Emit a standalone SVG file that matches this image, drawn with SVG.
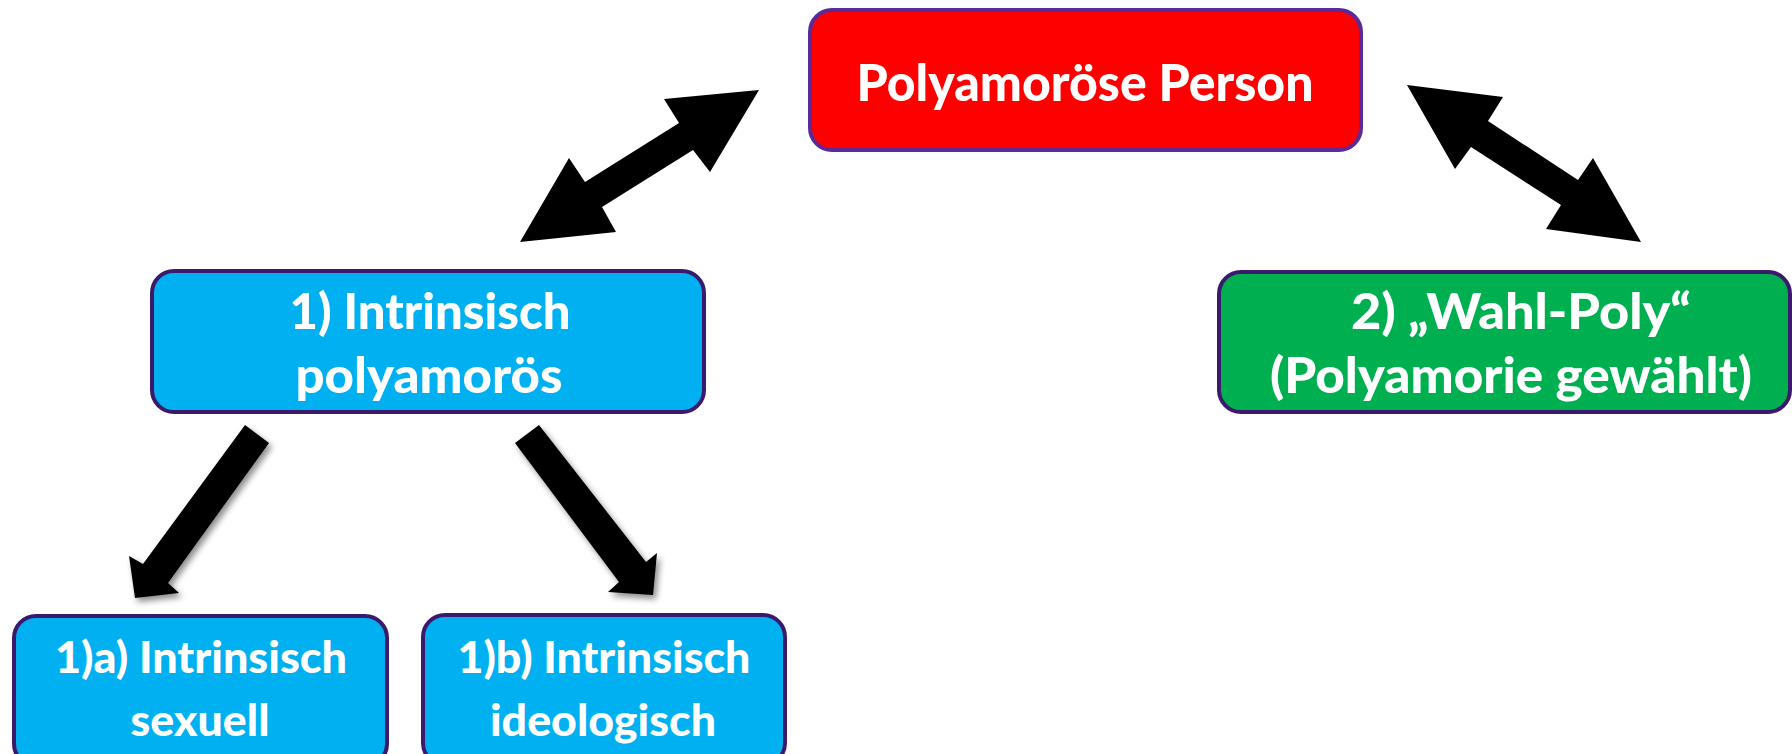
<svg xmlns="http://www.w3.org/2000/svg" width="1792" height="754" viewBox="0 0 1792 754">
<defs>
<style>
.box{stroke-width:4}
.red{fill:#FF0000;stroke:#5B2A96}
.blue{fill:#00B0F0;stroke:#3B1A6C}
.green{fill:#00B050;stroke:#3B1A6C}
.t{font-family:"Lato","Liberation Sans",sans-serif;font-weight:900;fill:#FFFFFF;text-anchor:middle}
.arrow{fill:#000000}
</style>
<filter id="sh" x="-30%" y="-30%" width="160%" height="160%">
<feDropShadow dx="3" dy="4" stdDeviation="3" flood-color="#000" flood-opacity="0.45"/>
</filter>
</defs>
<rect width="1792" height="754" fill="#FFFFFF"/>
<g id="connectors">
<polygon class="arrow" points="759,90 710,172 693,150 602,207 616,232 520,242 569,158 585,182 679,123 664,99"/>
<polygon class="arrow" points="1407,85 1503,97 1488,121 1578,180 1593,158 1641,242 1546,229 1561,205 1471,147 1455,169"/>
<polygon class="arrow" filter="url(#sh)" points="245,425 269,443 168,583 179,593 135,598 129,556 143,564"/>
<polygon class="arrow" filter="url(#sh)" points="539,425 646,562 657,553 653,595 608,592 619,582 515,443"/>
</g>
<g id="node-person">
<rect class="box red" x="810" y="10" width="551" height="140" rx="22"/>
<text class="t" x="1085" y="101" font-size="52" textLength="457" lengthAdjust="spacingAndGlyphs">Polyamoröse Person</text>
</g>
<g id="node-intrinsisch">
<rect class="box blue" x="152" y="271" width="552" height="141" rx="22"/>
<text class="t" x="430" y="329" font-size="50" textLength="281" lengthAdjust="spacingAndGlyphs">1) Intrinsisch</text>
<text class="t" x="429" y="393" font-size="50" textLength="267" lengthAdjust="spacingAndGlyphs">polyamorös</text>
</g>
<g id="node-wahl">
<rect class="box green" x="1219" y="272" width="571" height="140" rx="22"/>
<text class="t" x="1521" y="329" font-size="50" textLength="340" lengthAdjust="spacingAndGlyphs">2) „Wahl-Poly“</text>
<text class="t" x="1511" y="393" font-size="50" textLength="482" lengthAdjust="spacingAndGlyphs">(Polyamorie gewählt)</text>
</g>
<g id="node-sexuell">
<rect class="box blue" x="14" y="616" width="373" height="150" rx="22"/>
<text class="t" x="201" y="673" font-size="43" textLength="292" lengthAdjust="spacingAndGlyphs">1)a) Intrinsisch</text>
<text class="t" x="200" y="736" font-size="43" textLength="139" lengthAdjust="spacingAndGlyphs">sexuell</text>
</g>
<g id="node-ideologisch">
<rect class="box blue" x="423" y="615" width="362" height="150" rx="22"/>
<text class="t" x="604" y="673" font-size="43" textLength="293" lengthAdjust="spacingAndGlyphs">1)b) Intrinsisch</text>
<text class="t" x="603" y="736" font-size="43" textLength="226" lengthAdjust="spacingAndGlyphs">ideologisch</text>
</g>
</svg>
